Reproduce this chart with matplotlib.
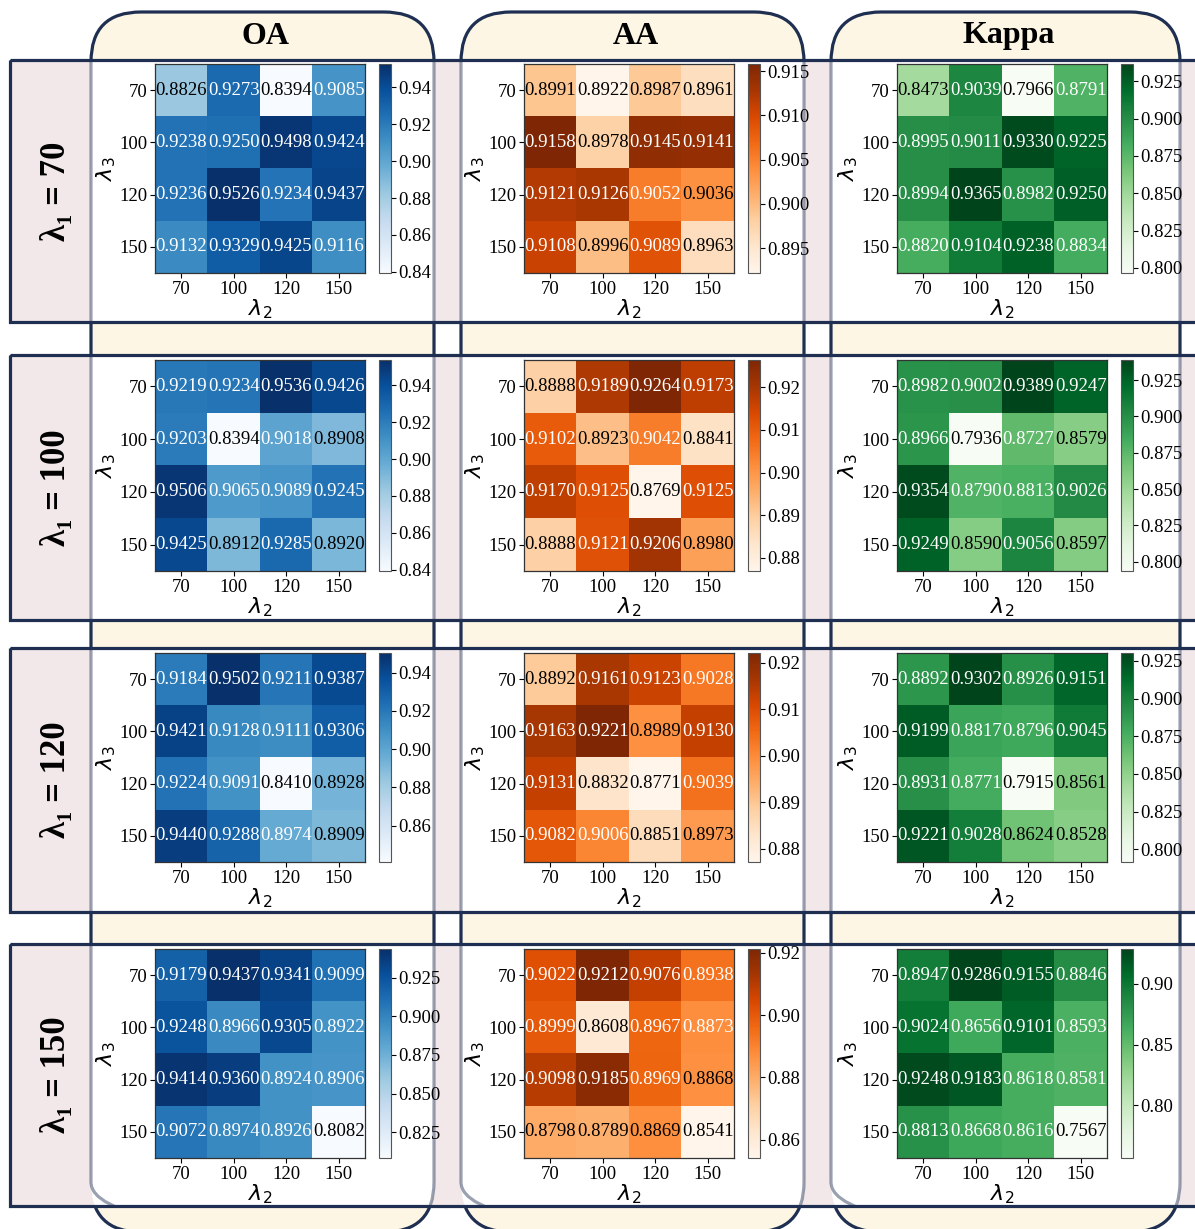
import numpy as np
import matplotlib
matplotlib.use("Agg")
import matplotlib.pyplot as plt
from matplotlib.patches import FancyBboxPatch, Rectangle
from matplotlib.colors import Normalize
from matplotlib.ticker import MaxNLocator

plt.rcParams['font.family'] = 'Liberation Serif'

W, H = 1195, 1229

metrics = ["OA", "AA", "Kappa"]
cmaps = ["Blues", "Oranges", "Greens"]
lam1 = [70, 100, 120, 150]
lam2_ticks = ["70", "100", "120", "150"]
lam3_ticks = ["70", "100", "120", "150"]

# rows: lambda3, cols: lambda2
oa_70 = [[0.8826, 0.9273, 0.8394, 0.9085],
         [0.9238, 0.9250, 0.9498, 0.9424],
         [0.9236, 0.9526, 0.9234, 0.9437],
         [0.9132, 0.9329, 0.9425, 0.9116]]
oa_100 = [[0.9219, 0.9234, 0.9536, 0.9426],
          [0.9203, 0.8394, 0.9018, 0.8908],
          [0.9506, 0.9065, 0.9089, 0.9245],
          [0.9425, 0.8912, 0.9285, 0.8920]]
oa_120 = [[0.9184, 0.9502, 0.9211, 0.9387],
          [0.9421, 0.9128, 0.9111, 0.9306],
          [0.9224, 0.9091, 0.8410, 0.8928],
          [0.9440, 0.9288, 0.8974, 0.8909]]
oa_150 = [[0.9179, 0.9437, 0.9341, 0.9099],
          [0.9248, 0.8966, 0.9305, 0.8922],
          [0.9414, 0.9360, 0.8924, 0.8906],
          [0.9072, 0.8974, 0.8926, 0.8082]]

aa_70 = [[0.8991, 0.8922, 0.8987, 0.8961],
         [0.9158, 0.8978, 0.9145, 0.9141],
         [0.9121, 0.9126, 0.9052, 0.9036],
         [0.9108, 0.8996, 0.9089, 0.8963]]
aa_100 = [[0.8888, 0.9189, 0.9264, 0.9173],
          [0.9102, 0.8923, 0.9042, 0.8841],
          [0.9170, 0.9125, 0.8769, 0.9125],
          [0.8888, 0.9121, 0.9206, 0.8980]]
aa_120 = [[0.8892, 0.9161, 0.9123, 0.9028],
          [0.9163, 0.9221, 0.8989, 0.9130],
          [0.9131, 0.8832, 0.8771, 0.9039],
          [0.9082, 0.9006, 0.8851, 0.8973]]
aa_150 = [[0.9022, 0.9212, 0.9076, 0.8938],
          [0.8999, 0.8608, 0.8967, 0.8873],
          [0.9098, 0.9185, 0.8969, 0.8868],
          [0.8798, 0.8789, 0.8869, 0.8541]]

kappa_70 = [[0.8473, 0.9039, 0.7966, 0.8791],
            [0.8995, 0.9011, 0.9330, 0.9225],
            [0.8994, 0.9365, 0.8982, 0.9250],
            [0.8820, 0.9104, 0.9238, 0.8834]]
kappa_100 = [[0.8982, 0.9002, 0.9389, 0.9247],
             [0.8966, 0.7936, 0.8727, 0.8579],
             [0.9354, 0.8790, 0.8813, 0.9026],
             [0.9249, 0.8590, 0.9056, 0.8597]]
kappa_120 = [[0.8892, 0.9302, 0.8926, 0.9151],
             [0.9199, 0.8817, 0.8796, 0.9045],
             [0.8931, 0.8771, 0.7915, 0.8561],
             [0.9221, 0.9028, 0.8624, 0.8528]]
kappa_150 = [[0.8947, 0.9286, 0.9155, 0.8846],
             [0.9024, 0.8656, 0.9101, 0.8593],
             [0.9248, 0.9183, 0.8618, 0.8581],
             [0.8813, 0.8668, 0.8616, 0.7567]]

grids = [[oa_70, aa_70, kappa_70],
         [oa_100, aa_100, kappa_100],
         [oa_120, aa_120, kappa_120],
         [oa_150, aa_150, kappa_150]]

navy = "#1e2f52"
cream = "#fef6e4"
pink = "#f3e8e9"

# layout in pixels
col_x = [(91, 434), (461, 804), (831, 1180)]
row_y = [(60, 322), (355, 620), (648, 912), (944, 1206)]
hm_x = [(155, 365), (524, 734), (897, 1107)]
hm_y = [(64, 273), (360, 571), (653, 862), (949, 1158)]


def px_box(x0, y0, x1, y1):
    return [x0 / W, 1 - y1 / H, (x1 - x0) / W, (y1 - y0) / H]


def panel(x0, x1, **kw):
    return FancyBboxPatch((x0, 12), x1 - x0, 1232 - 12,
                          boxstyle="round,pad=0,rounding_size=50", **kw)


fig = plt.figure(figsize=(W / 100, H / 100), dpi=100)
bg = fig.add_axes([0, 0, 1, 1])
bg.set_xlim(0, W)
bg.set_ylim(H, 0)
bg.axis("off")

# column frames
for (x0, x1), name in zip(col_x, metrics):
    bg.add_patch(panel(x0, x1, facecolor=cream, edgecolor=navy, lw=2.3, zorder=1))
    bg.text((x0 + x1) / 2 + 3, 36, name, ha="center", va="center",
            fontsize=23, fontweight="bold", zorder=6)

# row bands
for (y0, y1), l1 in zip(row_y, lam1):
    band = Rectangle((10, y0), W + 20 - 10, y1 - y0, facecolor=pink,
                     edgecolor="none", zorder=2)
    bg.add_patch(band)
    for x0, x1 in col_x:
        inner = panel(x0, x1, facecolor="white", edgecolor="none", zorder=3)
        bg.add_patch(inner)
        inner.set_clip_path(band)
        edge = panel(x0, x1, facecolor="none", edgecolor=navy, lw=2.3,
                     alpha=0.45, zorder=4)
        bg.add_patch(edge)
        edge.set_clip_path(band)
    bg.add_patch(Rectangle((10, y0), W + 20 - 10, y1 - y0, facecolor="none",
                           edgecolor=navy, lw=2.3, zorder=5))
    bg.text(57, (y0 + y1) / 2, "λ₁ = %d" % l1, rotation=90, ha="center",
            va="center", fontsize=25, fontweight="bold",
            family=["Liberation Serif", "DejaVu Serif"], zorder=6)

# heatmaps
for r in range(4):
    for c in range(3):
        data = np.array(grids[r][c])
        cmap = plt.get_cmap(cmaps[c])
        norm = Normalize(vmin=data.min(), vmax=data.max())
        x0, x1 = hm_x[c]
        y0, y1 = hm_y[r]
        ax = fig.add_axes(px_box(x0, y0, x1, y1))
        im = ax.imshow(data, cmap=cmap, norm=norm, aspect="auto")
        for i in range(4):
            for j in range(4):
                rgb = np.array(cmap(norm(data[i, j]))[:3])
                lin = np.where(rgb <= 0.03928, rgb / 12.92,
                               ((rgb + 0.055) / 1.055) ** 2.4)
                lum = 0.2126 * lin[0] + 0.7152 * lin[1] + 0.0722 * lin[2]
                ax.text(j, i, "%.4f" % data[i, j], ha="center", va="center",
                        fontsize=13.5, color="black" if lum > 0.408 else "white")
        ax.set_xticks(range(4))
        ax.set_xticklabels(lam2_ticks)
        ax.set_yticks(range(4))
        ax.set_yticklabels(lam3_ticks)
        ax.tick_params(labelsize=13.5, length=3.5, width=0.8, pad=2)
        ax.set_xlabel(r"$\lambda_2$", fontsize=16, labelpad=0)
        ax.set_ylabel(r"$\lambda_3$", fontsize=16, labelpad=1)
        for s in ax.spines.values():
            s.set_color("#333333")
            s.set_linewidth(0.9)

        cax = fig.add_axes(px_box(x1 + 14, y0, x1 + 26, y1))
        cb = fig.colorbar(im, cax=cax)
        cb.locator = MaxNLocator(nbins=6, steps=[1, 2, 2.5, 5, 10])
        cb.update_ticks()
        cb.outline.set_edgecolor("#555555")
        cb.outline.set_linewidth(0.8)
        cax.tick_params(labelsize=13.5, length=3.5, width=0.8, pad=2)

fig.savefig("out.png", dpi=100)
